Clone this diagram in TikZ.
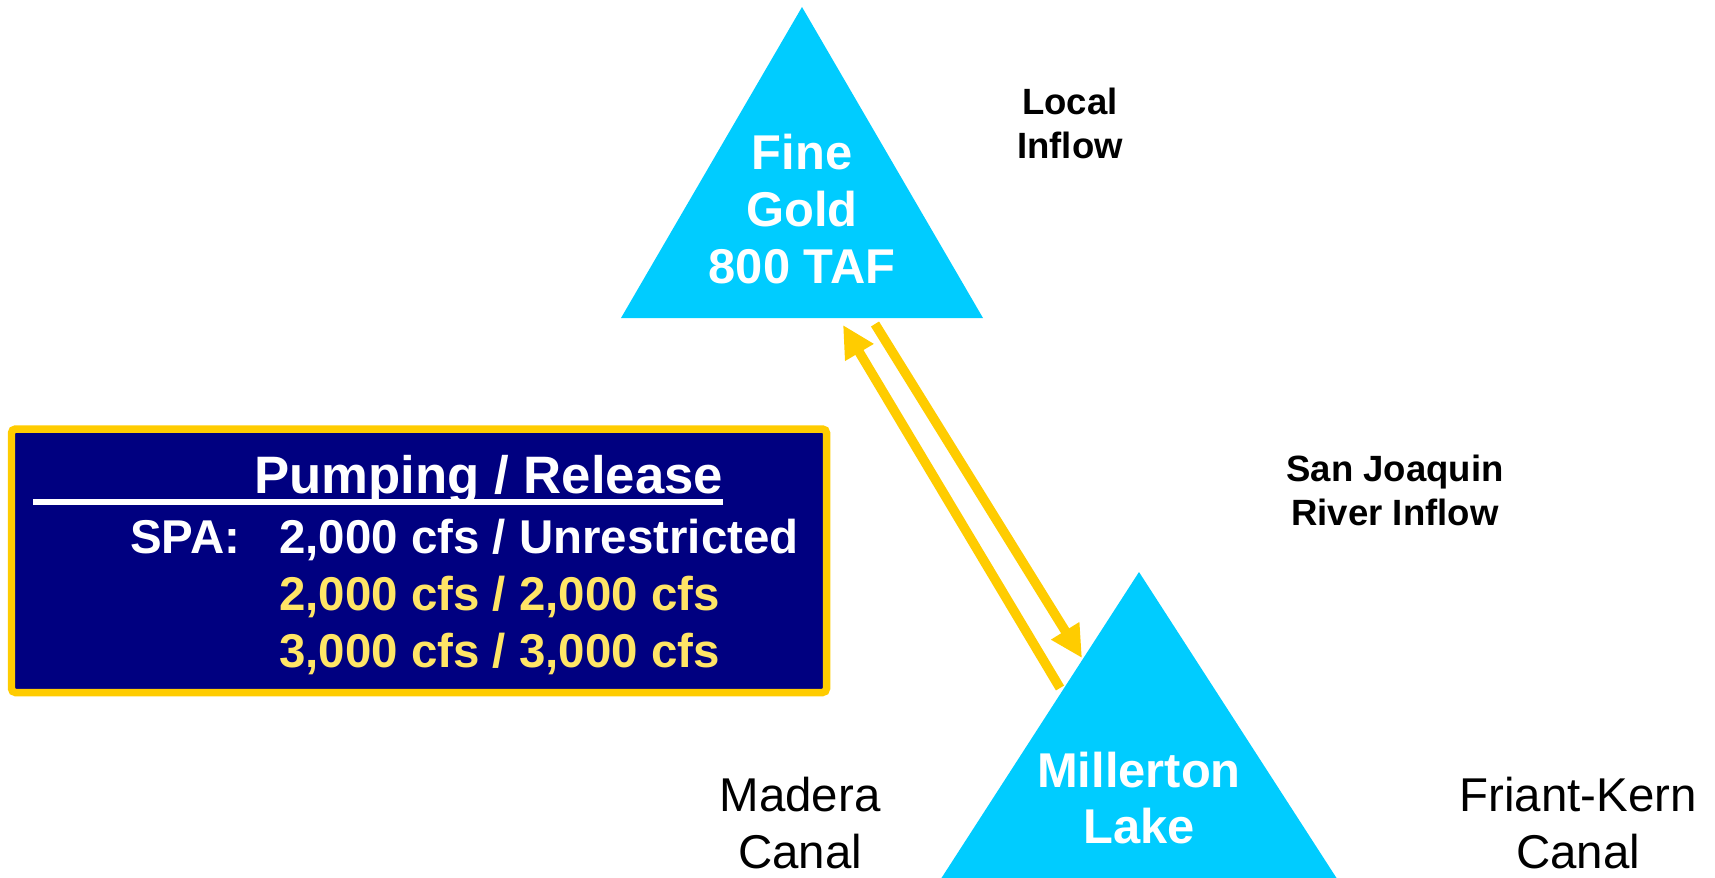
\documentclass[tikz,border=0pt]{standalone}
\usepackage{fontspec}
\setmainfont{Liberation Sans}
\usepackage{tikz}
\usetikzlibrary{arrows.meta,positioning}
\definecolor{lakeblue}{HTML}{00CCFF}
\definecolor{flowyellow}{HTML}{FFCC00}
\definecolor{panelnavy}{HTML}{000080}
\definecolor{paleyellow}{HTML}{FFE566}
\tikzset{
  lake/.style={fill=lakeblue},
  lakename/.style={text=white, font=\fontsize{27.8}{32.4}\selectfont\bfseries, align=center, inner sep=0pt},
  inflow/.style={font=\fontsize{20.8}{25}\selectfont\bfseries, align=center, inner sep=0pt},
  canal/.style={font=\fontsize{27}{32.4}\selectfont, align=center, inner sep=0pt},
  panel/.style={draw=flowyellow, fill=panelnavy, line width=0.15cm, rounded corners=0.08cm},
  rate/.style={font=\fontsize{27}{32}\selectfont\bfseries, anchor=base west, inner sep=0pt},
  flow/.style={draw=flowyellow, line width=0.19cm, -{Triangle[width=0.62cm,length=0.64cm]}}
}

\begin{document}
\begin{tikzpicture}[x=0.02cm,y=-0.02cm]
    \useasboundingbox (0,0) rectangle (1715,877);
    \clip (0,0) rectangle (1715,877);
    % reservoirs
    \fill[lake] (802,7) -- (621,318) -- (983,318) -- cycle;
    \fill[lake] (1139,572) -- (895,950) -- (1383,950) -- cycle;
    \node (finegold) [lakename] at (802,209) {Fine\\Gold\\800 TAF};
    \node (millerton) [lakename] at (1139,798) {Millerton\\Lake};
    \node (localin) [inflow] at (1070,123) {Local\\Inflow};
    \node (sjrin) [inflow] at (1395,490) {San Joaquin\\River Inflow};
    \node (madera) [canal] at (800,823) {Madera\\Canal};
    \node (friantkern) [canal] at (1578,823) {Friant-Kern\\Canal};
    % pumping / release between the two lakes
    \coordinate (fgout) at (875,324);
    \coordinate (mlin) at (1082,658);
    \coordinate (mlout) at (1060,688);
    \coordinate (fgin) at (843,325);
    \draw[flow] (fgout) -- (mlin);
    \draw[flow] (mlout) -- (fgin);
    % capacity table
    \path[panel] (11.5,429) rectangle (826.5,692.5);
    \node (ptitle) [rate, font=\fontsize{30}{32}\selectfont\bfseries, text=white] at (254,493) {Pumping / Release};
    \coordinate (ulstart) at (33,502);
    \draw[white, line width=0.12cm] (ulstart) -- (ulstart -| ptitle.east);
    \node (spa) [rate, text=white] at (130,553) {SPA:};
    \node (row1) [rate, text=white] at (279,553) {2,000 cfs / Unrestricted};
    \node (row2) [rate, text=paleyellow] at (279,610) {2,000 cfs / 2,000 cfs};
    \node (row3) [rate, text=paleyellow] at (279,667) {3,000 cfs / 3,000 cfs};
\end{tikzpicture}
\end{document}
